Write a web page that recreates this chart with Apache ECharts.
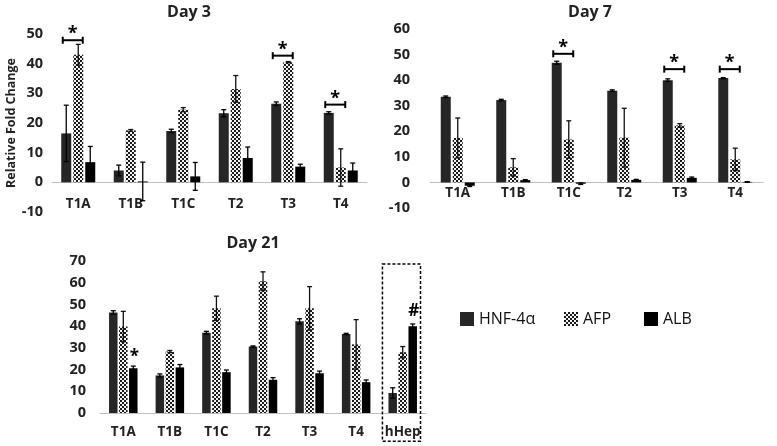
<!DOCTYPE html>
<html>
<head>
<meta charset="utf-8">
<script src="https://cdn.jsdelivr.net/npm/echarts@6/dist/echarts.min.js"></script>
<style>
html,body{margin:0;padding:0;background:#fff;}
#c{width:777px;height:446px;}
</style>
</head>
<body>
<div id="c"></div>
<script>
// ---------------- DATA ----------------
const categories = ['T1A', 'T1B', 'T1C', 'T2', 'T3', 'T4'];
const categories21 = ['T1A', 'T1B', 'T1C', 'T2', 'T3', 'T4', 'hHep'];
const seriesNames = ['HNF-4α', 'AFP', 'ALB'];

// Day 3
const day3_hnf = [16.5, 4.0, 17.3, 23.3, 26.5, 23.4];
const day3_hnf_err = [9.5, 1.8, 0.6, 1.2, 0.6, 0.4];
const day3_afp = [43.0, 17.5, 24.5, 31.5, 40.5, 5.0];
const day3_afp_err = [3.5, 0.3, 0.7, 4.5, 0.2, 6.3];
const day3_alb = [6.8, 0.3, 2.0, 8.2, 5.3, 4.0];
const day3_alb_err = [5.3, 6.5, 4.7, 3.7, 0.8, 2.5];
const day3_sig = [[0, 47.9], [4, 42.7], [5, 26.2]];   // [category, bracket level]

// Day 7
const day7_hnf = [33.5, 32.2, 46.8, 35.9, 40.0, 40.8];
const day7_hnf_err = [0.3, 0.3, 0.6, 0.3, 0.5, 0.2];
const day7_afp = [17.4, 5.9, 16.8, 17.5, 22.3, 9.0];
const day7_afp_err = [7.8, 3.4, 7.3, 11.5, 0.7, 4.4];
const day7_alb = [-1.3, 0.9, -0.5, 1.0, 1.8, 0.2];
const day7_alb_err = [0.3, 0.2, 0.3, 0.2, 0.3, 0.1];
const day7_sig = [[2, 50.3], [4, 44.3], [5, 44.3]];

// Day 21
const day21_hnf = [46.3, 17.3, 37.0, 30.6, 42.2, 36.4, 9.2];
const day21_hnf_err = [0.8, 0.7, 0.6, 0.3, 1.2, 0.3, 2.4];
const day21_afp = [39.8, 28.3, 48.2, 60.7, 48.2, 31.6, 28.0];
const day21_afp_err = [7.0, 0.5, 5.6, 4.3, 10.0, 11.4, 2.6];
const day21_alb = [20.6, 21.0, 18.8, 15.3, 18.3, 14.2, 40.0];
const day21_alb_err = [1.0, 1.3, 1.0, 1.0, 1.0, 1.0, 1.0];
const day21_marks = [[0, 2, 25.8, '*'], [6, 2, 47.0, '#']]; // [category, bar index, level, symbol]
const day21_box = [6, 68.6, -13];  // hHep highlight box: [category, top, bottom]

// ---------------- STYLE ----------------
const FONT = 'Open Sans';
const cHNF = '#262626';
const cALB = '#000000';

function makePattern() {
  const cv = document.createElement('canvas');
  cv.width = 4; cv.height = 4;
  const ctx = cv.getContext('2d');
  ctx.fillStyle = '#f2f2f2'; ctx.fillRect(0, 0, 4, 4);
  ctx.fillStyle = '#1a1a1a';
  ctx.fillRect(0, 0, 2, 2); ctx.fillRect(2, 2, 2, 2);
  return { image: cv, repeat: 'repeat' };
}
const cAFP = makePattern();
const colors = [cHNF, cAFP, cALB];

const panels = [
  { title: 'Day 3', cats: categories, vals: [day3_hnf, day3_afp, day3_alb], errs: [day3_hnf_err, day3_afp_err, day3_alb_err],
    sig: day3_sig, min: -10, max: 50, left: 52, top: 34, width: 315, height: 178, barW: 10, gap: 2,
    labelMargin: -15, yMargin: 9, titleX: 184, titleY: -1 },
  { title: 'Day 7', cats: categories, vals: [day7_hnf, day7_afp, day7_alb], errs: [day7_hnf_err, day7_afp_err, day7_alb_err],
    sig: day7_sig, min: -10, max: 60, left: 430, top: 29, width: 333, height: 179, barW: 10, gap: 2,
    labelMargin: -22, yMargin: 20, titleX: 585, titleY: -1 },
  { title: 'Day 21', cats: categories21, vals: [day21_hnf, day21_afp, day21_alb], errs: [day21_hnf_err, day21_afp_err, day21_alb_err],
    sig: [], min: 0, max: 70, left: 100, top: 261, width: 326, height: 152, barW: 8.5, gap: 1.5,
    labelMargin: 12, yMargin: 14, titleX: 248, titleY: 230 }
];

const grids = [], xAxes = [], yAxes = [], series = [], titles = [];

panels.forEach((p, gi) => {
  grids.push({ left: p.left, top: p.top, width: p.width, height: p.height, containLabel: false });
  titles.push({ text: p.title, left: p.titleX, top: p.titleY, textAlign: 'center',
    textStyle: { fontFamily: FONT, fontWeight: 'bold', fontSize: 16, color: '#222' } });
  xAxes.push({ type: 'category', gridIndex: gi, data: p.cats,
    axisLine: { onZero: true, lineStyle: { color: '#bfbfbf', width: 1 } },
    axisTick: { show: false },
    axisLabel: { margin: p.labelMargin, fontFamily: FONT, fontWeight: 'bold', fontSize: 13.5, color: '#222' },
    z: 1 });
  const ya = { type: 'value', gridIndex: gi, min: p.min, max: p.max, interval: 10,
    axisLine: { show: false }, axisTick: { show: false }, splitLine: { show: false },
    axisLabel: { margin: p.yMargin, fontFamily: FONT, fontWeight: 'bold', fontSize: 14.5, color: '#222' } };
  if (gi === 0) {
    ya.name = 'Relative Fold Change';
    ya.nameLocation = 'middle';
    ya.nameGap = 33;
    ya.nameRotate = 90;
    ya.nameTextStyle = { fontFamily: FONT, fontWeight: 'bold', fontSize: 12.5, color: '#222' };
  }
  yAxes.push(ya);

  const step = p.barW + p.gap;
  seriesNames.forEach((nm, si) => {
    series.push({ type: 'bar', name: nm, xAxisIndex: gi, yAxisIndex: gi, data: p.vals[si],
      barWidth: p.barW, barGap: (p.gap / p.barW * 100) + '%',
      itemStyle: { color: colors[si] }, emphasis: { disabled: true }, z: 2 });
    // error bars
    const errData = p.vals[si].map((v, i) => [i, v - p.errs[si][i], v + p.errs[si][i]]);
    const off = (si - 1) * step;
    series.push({ type: 'custom', xAxisIndex: gi, yAxisIndex: gi, data: errData, z: 5, silent: true,
      renderItem: function (params, api) {
        const lo = api.coord([api.value(0), api.value(1)]);
        const hi = api.coord([api.value(0), api.value(2)]);
        const x = lo[0] + off;
        const cap = 2.5;
        const st = { stroke: si === 1 ? '#111' : '#000', lineWidth: 1.3 };
        return { type: 'group', children: [
          { type: 'line', shape: { x1: x, y1: lo[1], x2: x, y2: hi[1] }, style: st },
          { type: 'line', shape: { x1: x - cap, y1: lo[1], x2: x + cap, y2: lo[1] }, style: st },
          { type: 'line', shape: { x1: x - cap, y1: hi[1], x2: x + cap, y2: hi[1] }, style: st }
        ] };
      } });
  });

  // significance brackets (HNF-4α vs AFP)
  if (p.sig.length) {
    series.push({ type: 'custom', xAxisIndex: gi, yAxisIndex: gi, data: p.sig, z: 6, silent: true,
      renderItem: function (params, api) {
        const c = api.coord([api.value(0), api.value(1)]);
        const x1 = c[0] - step - 3.5, x2 = c[0] + 4.5, y = c[1];
        const st = { stroke: '#000', lineWidth: 2 };
        return { type: 'group', children: [
          { type: 'line', shape: { x1: x1, y1: y, x2: x2, y2: y }, style: st },
          { type: 'line', shape: { x1: x1, y1: y - 3.5, x2: x1, y2: y + 3.5 }, style: st },
          { type: 'line', shape: { x1: x2, y1: y - 3.5, x2: x2, y2: y + 3.5 }, style: st },
          { type: 'text', style: { x: (x1 + x2) / 2, y: y + 3, text: '*', align: 'center', verticalAlign: 'bottom',
            font: 'bold 18px "' + FONT + '"', fill: '#000' } }
        ] };
      } });
  }
});

// Day 21 marks (* and #) above ALB bars
const p21 = panels[2];
const step21 = p21.barW + p21.gap;
series.push({ type: 'custom', xAxisIndex: 2, yAxisIndex: 2, data: day21_marks, z: 6, silent: true,
  renderItem: function (params, api) {
    const c = api.coord([api.value(0), api.value(2)]);
    const x = c[0] + (api.value(1) - 1) * step21;
    return { type: 'text', style: { x: x + 1, y: c[1], text: day21_marks[params.dataIndex][3], align: 'center',
      verticalAlign: 'middle', font: 'bold 17px "' + FONT + '"', fill: '#000' } };
  } });

// hHep dashed box
series.push({ type: 'custom', xAxisIndex: 2, yAxisIndex: 2, data: [day21_box], z: 7, silent: true, clip: false,
  renderItem: function (params, api) {
    const t = api.coord([api.value(0), api.value(1)]);
    const b = api.coord([api.value(0), api.value(2)]);
    const bw = api.size([1, 0])[0];
    return { type: 'rect', shape: { x: t[0] - bw / 2 + 3, y: t[1], width: bw - 8.5, height: b[1] - t[1] },
      style: { fill: 'none', stroke: '#000', lineWidth: 1.5, lineDash: [3, 2] } };
  } });

const legends = [
  { name: seriesNames[0], left: 460 },
  { name: seriesNames[1], left: 564 },
  { name: seriesNames[2], left: 644 }
].map(l => ({ data: [l.name], left: l.left, top: 311, icon: 'rect', itemWidth: 14, itemHeight: 14, itemGap: 0,
  selectedMode: false, textStyle: { fontFamily: FONT, fontSize: 16, color: '#111', padding: [0, 0, 0, 0] }, padding: 0 }));

const chart = echarts.init(document.getElementById('c'), null, { renderer: 'canvas' });
chart.setOption({
  animation: false,
  backgroundColor: '#fff',
  title: titles,
  legend: legends,
  grid: grids,
  xAxis: xAxes,
  yAxis: yAxes,
  series: series
});
</script>
</body>
</html>
